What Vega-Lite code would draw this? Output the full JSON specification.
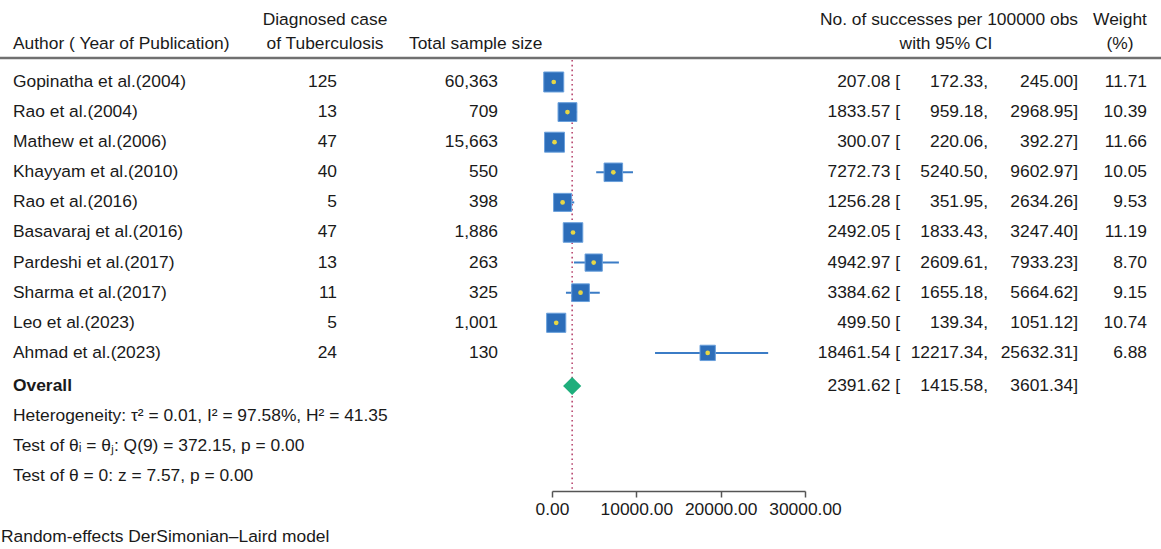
{
  "$schema": "https://vega.github.io/schema/vega-lite/v6.json",
  "width": 1161,
  "height": 549,
  "padding": 0,
  "autosize": {"type": "none"},
  "background": "white",
  "config": {
    "view": {"stroke": null},
    "font": "Liberation Sans",
    "text": {"font": "Liberation Sans", "fontSize": 17.4, "color": "#1a1a1a", "baseline": "middle"}
  },
  "datasets": {
    "studies": [
      {"row": 0, "author": "Gopinatha et al.(2004)", "cases": 125, "n": 60363, "est": 207.08, "lo": 172.33, "hi": 245.00, "w": 11.71},
      {"row": 1, "author": "Rao et al.(2004)", "cases": 13, "n": 709, "est": 1833.57, "lo": 959.18, "hi": 2968.95, "w": 10.39},
      {"row": 2, "author": "Mathew et al.(2006)", "cases": 47, "n": 15663, "est": 300.07, "lo": 220.06, "hi": 392.27, "w": 11.66},
      {"row": 3, "author": "Khayyam et al.(2010)", "cases": 40, "n": 550, "est": 7272.73, "lo": 5240.50, "hi": 9602.97, "w": 10.05},
      {"row": 4, "author": "Rao et al.(2016)", "cases": 5, "n": 398, "est": 1256.28, "lo": 351.95, "hi": 2634.26, "w": 9.53},
      {"row": 5, "author": "Basavaraj et al.(2016)", "cases": 47, "n": 1886, "est": 2492.05, "lo": 1833.43, "hi": 3247.40, "w": 11.19},
      {"row": 6, "author": "Pardeshi et al.(2017)", "cases": 13, "n": 263, "est": 4942.97, "lo": 2609.61, "hi": 7933.23, "w": 8.70},
      {"row": 7, "author": "Sharma et al.(2017)", "cases": 11, "n": 325, "est": 3384.62, "lo": 1655.18, "hi": 5664.62, "w": 9.15},
      {"row": 8, "author": "Leo et al.(2023)", "cases": 5, "n": 1001, "est": 499.50, "lo": 139.34, "hi": 1051.12, "w": 10.74},
      {"row": 9, "author": "Ahmad et al.(2023)", "cases": 24, "n": 130, "est": 18461.54, "lo": 12217.34, "hi": 25632.31, "w": 6.88}
    ],
    "overall": [
      {"row": 10.1, "label": "Overall", "est": 2391.62, "lo": 1415.58, "hi": 3601.34}
    ],
    "notes": [
      {"row": 11.1, "note": "Heterogeneity: τ² = 0.01, I² = 97.58%, H² = 41.35"},
      {"row": 12.1, "note": "Test of θᵢ = θⱼ: Q(9) = 372.15, p = 0.00"},
      {"row": 13.1, "note": "Test of θ = 0: z = 7.57, p = 0.00"}
    ],
    "one": [{"k": 1}]
  },
  "data": {"name": "studies"},
  "layer": [
    {
      "mark": {"type": "text", "align": "left"},
      "encoding": {
        "x": {"value": 13},
        "y": {
          "field": "row",
          "type": "quantitative",
          "scale": {"domain": [-2.724, 15.515], "reverse": true, "nice": false, "zero": false},
          "axis": null
        },
        "text": {"field": "author"}
      }
    },
    {
      "data": {"name": "one"},
      "mark": {"type": "rule", "color": "#707070", "strokeWidth": 2.5},
      "encoding": {"y": {"datum": -0.797, "type": "quantitative"}}
    },
    {
      "data": {"name": "one"},
      "mark": {"type": "text", "align": "left", "text": "Author ( Year of Publication)"},
      "encoding": {"x": {"value": 13}, "y": {"datum": -1.26, "type": "quantitative"}}
    },
    {
      "data": {"name": "one"},
      "mark": {"type": "text", "align": "center", "text": "Diagnosed case"},
      "encoding": {"x": {"value": 325}, "y": {"datum": -2.06, "type": "quantitative"}}
    },
    {
      "data": {"name": "one"},
      "mark": {"type": "text", "align": "center", "text": "of Tuberculosis"},
      "encoding": {"x": {"value": 325}, "y": {"datum": -1.26, "type": "quantitative"}}
    },
    {
      "data": {"name": "one"},
      "mark": {"type": "text", "align": "left", "text": "Total sample size"},
      "encoding": {"x": {"value": 409}, "y": {"datum": -1.26, "type": "quantitative"}}
    },
    {
      "data": {"name": "one"},
      "mark": {"type": "text", "align": "center", "text": "No. of successes per 100000 obs"},
      "encoding": {"x": {"value": 949}, "y": {"datum": -2.06, "type": "quantitative"}}
    },
    {
      "data": {"name": "one"},
      "mark": {"type": "text", "align": "center", "text": "with 95% CI"},
      "encoding": {"x": {"value": 946}, "y": {"datum": -1.26, "type": "quantitative"}}
    },
    {
      "data": {"name": "one"},
      "mark": {"type": "text", "align": "center", "text": "Weight"},
      "encoding": {"x": {"value": 1120}, "y": {"datum": -2.06, "type": "quantitative"}}
    },
    {
      "data": {"name": "one"},
      "mark": {"type": "text", "align": "center", "text": "(%)"},
      "encoding": {"x": {"value": 1120}, "y": {"datum": -1.26, "type": "quantitative"}}
    },
    {
      "mark": {"type": "text", "align": "right"},
      "encoding": {
        "x": {"value": 337},
        "y": {"field": "row", "type": "quantitative"},
        "text": {"field": "cases", "type": "quantitative", "format": "d"}
      }
    },
    {
      "mark": {"type": "text", "align": "right"},
      "encoding": {
        "x": {"value": 498},
        "y": {"field": "row", "type": "quantitative"},
        "text": {"field": "n", "type": "quantitative", "format": ","}
      }
    },
    {
      "mark": {"type": "text", "align": "right"},
      "encoding": {
        "x": {"value": 1147},
        "y": {"field": "row", "type": "quantitative"},
        "text": {"field": "w", "type": "quantitative", "format": ".2f"}
      }
    },
    {
      "data": {"name": "notes"},
      "mark": {"type": "text", "align": "left"},
      "encoding": {
        "x": {"value": 13},
        "y": {"field": "row", "type": "quantitative"},
        "text": {"field": "note"}
      }
    },
    {
      "data": {"name": "one"},
      "mark": {"type": "text", "align": "left", "text": "Random-effects DerSimonian–Laird model"},
      "encoding": {"x": {"value": 1}, "y": {"datum": 15.1, "type": "quantitative"}}
    },
    {
      "data": {"name": "overall"},
      "mark": {"type": "text", "align": "left", "fontWeight": "bold"},
      "encoding": {
        "x": {"value": 13},
        "y": {"field": "row", "type": "quantitative"},
        "text": {"field": "label"}
      }
    },
    {
      "data": {"name": "overall"},
      "transform": [
        {"calculate": "format(datum.est, '.2f') + ' ['", "as": "estLabel"},
        {"calculate": "format(datum.lo, '.2f') + ','", "as": "loLabel"},
        {"calculate": "format(datum.hi, '.2f') + ']'", "as": "hiLabel"}
      ],
      "layer": [
        {"mark": {"type": "text", "align": "right"}, "encoding": {"x": {"value": 900}, "y": {"field": "row", "type": "quantitative"}, "text": {"field": "estLabel"}}},
        {"mark": {"type": "text", "align": "right"}, "encoding": {"x": {"value": 988}, "y": {"field": "row", "type": "quantitative"}, "text": {"field": "loLabel"}}},
        {"mark": {"type": "text", "align": "right"}, "encoding": {"x": {"value": 1078}, "y": {"field": "row", "type": "quantitative"}, "text": {"field": "hiLabel"}}}
      ]
    },
    {
      "transform": [
        {"calculate": "format(datum.est, '.2f') + ' ['", "as": "estLabel"},
        {"calculate": "format(datum.lo, '.2f') + ','", "as": "loLabel"},
        {"calculate": "format(datum.hi, '.2f') + ']'", "as": "hiLabel"}
      ],
      "layer": [
        {"mark": {"type": "text", "align": "right"}, "encoding": {"x": {"value": 900}, "y": {"field": "row", "type": "quantitative"}, "text": {"field": "estLabel"}}},
        {"mark": {"type": "text", "align": "right"}, "encoding": {"x": {"value": 988}, "y": {"field": "row", "type": "quantitative"}, "text": {"field": "loLabel"}}},
        {"mark": {"type": "text", "align": "right"}, "encoding": {"x": {"value": 1078}, "y": {"field": "row", "type": "quantitative"}, "text": {"field": "hiLabel"}}}
      ]
    },
    {
      "data": {"name": "overall"},
      "mark": {"type": "rule", "color": "#b94a72", "strokeWidth": 1.6, "strokeDash": [1.6, 3.2]},
      "encoding": {
        "x": {
          "field": "est",
          "type": "quantitative",
          "scale": {"domain": [0, 30000], "range": [552, 805], "nice": false, "zero": false},
          "axis": {
            "values": [0, 10000, 20000, 30000],
            "format": ".2f",
            "title": null,
            "grid": false,
            "offset": -58,
            "labelOverlap": false,
            "labelBound": false,
            "labelFlush": false,
            "labelFont": "Liberation Sans",
            "labelFontSize": 17.4,
            "labelColor": "#1a1a1a",
            "labelPadding": 3,
            "tickSize": 6,
            "tickWidth": 1.5,
            "tickColor": "#555555",
            "domainColor": "#555555",
            "domainWidth": 1.5
          }
        },
        "y": {"datum": -0.731, "type": "quantitative"},
        "y2": {"datum": 13.588}
      }
    },
    {
      "mark": {"type": "rule", "color": "#3b7cc6", "strokeWidth": 2},
      "encoding": {
        "x": {"field": "lo", "type": "quantitative"},
        "x2": {"field": "hi"},
        "y": {"field": "row", "type": "quantitative"}
      }
    },
    {
      "mark": {"type": "point", "shape": "square", "filled": true, "fill": "#2c6db9", "stroke": "#6aa0dc", "strokeWidth": 1, "opacity": 1},
      "encoding": {
        "x": {"field": "est", "type": "quantitative"},
        "y": {"field": "row", "type": "quantitative"},
        "size": {"field": "w", "type": "quantitative", "scale": {"domain": [0, 12], "range": [0, 410]}, "legend": null}
      }
    },
    {
      "mark": {"type": "point", "shape": "circle", "filled": true, "color": "#e6d645", "size": 22, "opacity": 1},
      "encoding": {
        "x": {"field": "est", "type": "quantitative"},
        "y": {"field": "row", "type": "quantitative"}
      }
    },
    {
      "data": {"name": "overall"},
      "mark": {"type": "point", "shape": "diamond", "filled": true, "color": "#1fae7c", "size": 330, "opacity": 1},
      "encoding": {
        "x": {"field": "est", "type": "quantitative"},
        "y": {"field": "row", "type": "quantitative"}
      }
    }
  ]
}
